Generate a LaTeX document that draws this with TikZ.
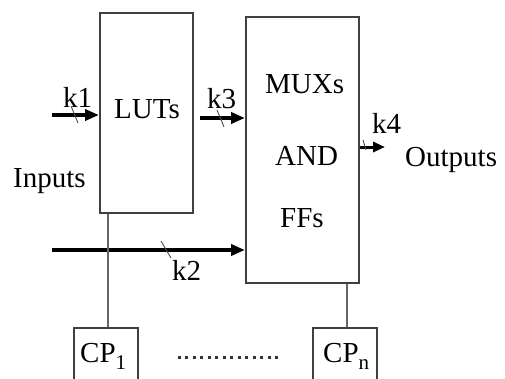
\documentclass[tikz,border=0pt]{standalone}
\usepackage{fontspec}
\setmainfont{Liberation Serif}
\usetikzlibrary{arrows.meta,positioning}
\tikzset{
  blk/.style={draw=black!75, line width=2pt, inner sep=0pt},
  bus/.style={line width=3.6pt, -{Triangle[length=14pt,width=11pt]}},
  slash/.style={draw=black!70, line width=0.9pt},
  tie/.style={draw=black!60, line width=1.6pt},
  lbl/.style={inner sep=0pt, anchor=base west},
}
\newcommand{\cpsub}[1]{\raisebox{-7pt}{\fontsize{21}{21}\selectfont #1}}
\begin{document}
\begin{tikzpicture}[x=1pt, y=-1pt, every node/.style={font=\fontsize{29}{34}\selectfont}]
\useasboundingbox (0,0) rectangle (505,378);
% blocks
\node[blk, minimum width=93pt, minimum height=200pt] (luts) at (146.5,113) {};
\node[lbl] (lutst) at (114,118) {LUTs};
\node[blk, minimum width=113pt, minimum height=266pt] (mux) at (302.5,150) {};
\node[lbl] (muxt) at (265,93) {MUXs};
\node[lbl] (andt) at (275,165) {AND};
\node[lbl] (fft) at (280,227) {FFs};
\node[blk, line width=1.6pt, minimum width=64pt, minimum height=56pt] (cpa) at (106,356) {};
\node[blk, line width=1.6pt, minimum width=64pt, minimum height=56pt] (cpb) at (345,356) {};
\node[lbl] (cpat) at (80,362) {CP\cpsub{1}};
\node[lbl] (cpbt) at (323,362) {CP\cpsub{n}};
% free ends
\coordinate (ina) at (52,115);
\coordinate (inb) at (52,250);
\coordinate (outa) at (385,147);
\coordinate (lutsr) at (200,118);
% buses
\draw[bus] (ina) -- (ina -| luts.west);
\draw[bus] (lutsr) -- (lutsr -| mux.west);
\draw[bus] (inb) -- (inb -| mux.west);
\draw[bus, line width=3pt, -{Triangle[length=12pt,width=10pt]}] (mux.east |- outa) -- (outa);
\draw[slash] (71,106) -- (78,123);
\draw[slash] (217,110) -- (224,127);
\draw[slash] (161,241) -- (171,258);
\draw[slash] (363,140) -- (366,150);
% labels
\node[lbl] (ka) at (63,107) {k1};
\node[lbl] (kc) at (207,108) {k3};
\node[lbl] (kb) at (172,280) {k2};
\node[lbl] (kd) at (372,133) {k4};
\node[lbl] (inp) at (13,187) {Inputs};
\node[lbl] (outp) at (405,166) {Outputs};
% clock ties
\draw[tie] (luts.south -| 108,0) -- (cpa.north -| 108,0);
\draw[tie, line width=1.2pt] (mux.south -| 347,0) -- (cpb.north -| 347,0);
\draw[line width=3pt, dash pattern=on 3pt off 4.5pt, black!80] (cpa.east |- 0,357) ++(39,0) -- (282,357);
\end{tikzpicture}
\end{document}
